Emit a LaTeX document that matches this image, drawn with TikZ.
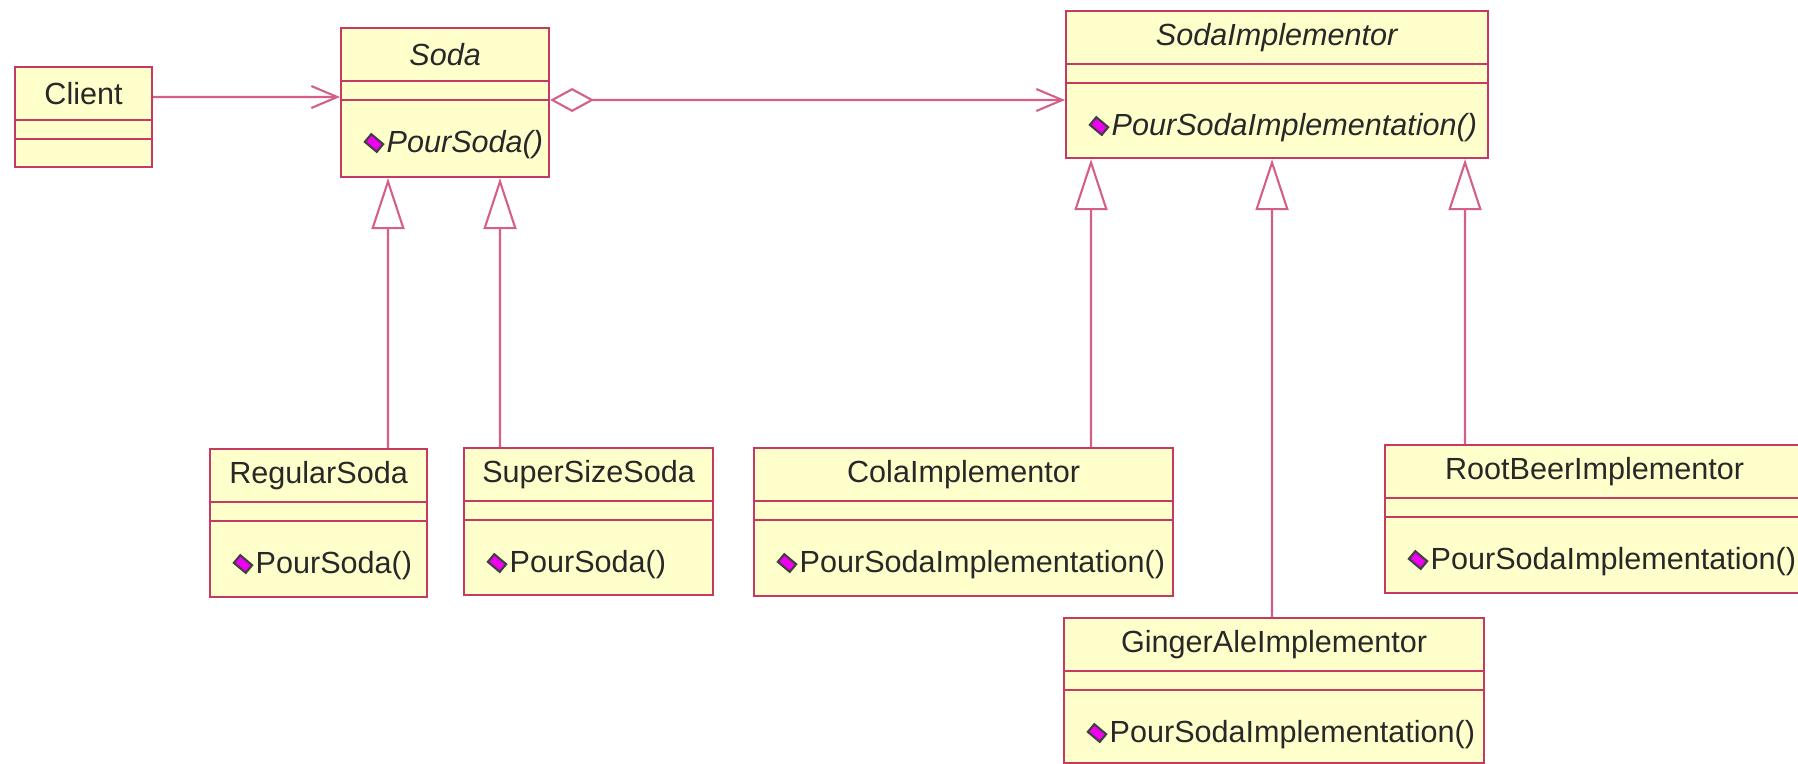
\documentclass[tikz,border=0pt]{standalone}
\usepackage{fontspec}
\setmainfont{Liberation Sans}
\usetikzlibrary{arrows.meta}

\definecolor{umlfill}{RGB}{255,255,204}
\definecolor{umlborder}{RGB}{196,58,98}
\definecolor{umllink}{RGB}{212,96,138}
\definecolor{umltext}{RGB}{40,40,40}
\definecolor{iconpink}{RGB}{240,0,240}

\tikzset{
	classbox/.style={draw=umlborder, fill=umlfill, line width=0.6pt, rectangle, inner sep=0pt, anchor=north west},
	classrule/.style={draw=umlborder, line width=0.5pt},
	classname/.style={text=umltext, font=\fontsize{8.7}{10}\selectfont, inner sep=0pt},
	opname/.style={classname, anchor=west},
	opicon/.style={draw=black!75, fill=iconpink, line width=0.6pt, minimum width=1.55mm, minimum height=1mm, inner sep=0pt, rotate=-40},
	assoc/.style={draw=umllink, line width=0.6pt, -{Straight Barb[length=2.6mm,width=2.2mm]}},
	aggr/.style={draw=umllink, line width=0.6pt, {Diamond[open,length=4.4mm,width=2.4mm]}-{Straight Barb[length=2.6mm,width=2.2mm]}},
	inherit/.style={draw=umllink, line width=0.6pt, -{Triangle[open,length=5.1mm,width=3.3mm]}}
}

% name, top left corner, width, height, class name, operation
\newcommand{\umlclass}[6]{%
	\node[classbox, minimum width=#3, minimum height=#4] (#1) at #2 {};
	\draw[classrule] ([yshift=-5.4mm]#1.north west) -- ([yshift=-5.4mm]#1.north east);
	\draw[classrule] ([yshift=-7.3mm]#1.north west) -- ([yshift=-7.3mm]#1.north east);
	\node[classname] (#1-name) at ([yshift=-2.8mm]#1.north) {#5};
	\if\relax\detokenize{#6}\relax\else
		\node[opicon] (#1-icon) at ([xshift=3.4mm,yshift=-11.6mm]#1.north west) {};
		\node[opname] (#1-op) at ([xshift=4.6mm,yshift=-11.8mm]#1.north west) {#6};
	\fi
}

\begin{document}
\begin{tikzpicture}[x=0.1mm, y=-0.1mm]
		\useasboundingbox (0,0) rectangle (1798,763);

		\umlclass{client}{(14,66)}{13.7mm}{10mm}{Client}{}
		\umlclass{soda}{(340,27)}{20.8mm}{14.9mm}{\textit{Soda}}{\textit{PourSoda()}}
		\umlclass{impl}{(1065,10)}{42.2mm}{14.7mm}{\textit{SodaImplementor}}{\textit{PourSodaImplementation()}}

		\umlclass{regular}{(209,448)}{21.7mm}{14.8mm}{RegularSoda}{PourSoda()}
		\umlclass{supersize}{(463,447)}{24.9mm}{14.7mm}{SuperSizeSoda}{PourSoda()}
		\umlclass{cola}{(753,447)}{41.9mm}{14.8mm}{ColaImplementor}{PourSodaImplementation()}
		\umlclass{gingerale}{(1063,617)}{42mm}{14.5mm}{GingerAleImplementor}{PourSodaImplementation()}
		\umlclass{rootbeer}{(1384,444)}{41.9mm}{14.8mm}{RootBeerImplementor}{PourSodaImplementation()}

		\draw[assoc] ([yshift=-3.1mm]client.north east) -- ([yshift=-7mm]soda.north west);
		\draw[aggr] ([yshift=-7.3mm]soda.north east) -- ([yshift=-9mm]impl.north west);

		\draw[inherit] ([xshift=17.9mm]regular.north west) -- ([xshift=4.8mm]soda.south west);
		\draw[inherit] ([xshift=3.7mm]supersize.north west) -- ([xshift=16mm]soda.south west);
		\draw[inherit] ([xshift=33.8mm]cola.north west) -- ([xshift=2.6mm]impl.south west);
		\draw[inherit] ([xshift=20.9mm]gingerale.north west) -- ([xshift=20.7mm]impl.south west);
		\draw[inherit] ([xshift=8.1mm]rootbeer.north west) -- ([xshift=40mm]impl.south west);
	\end{tikzpicture}
\end{document}
